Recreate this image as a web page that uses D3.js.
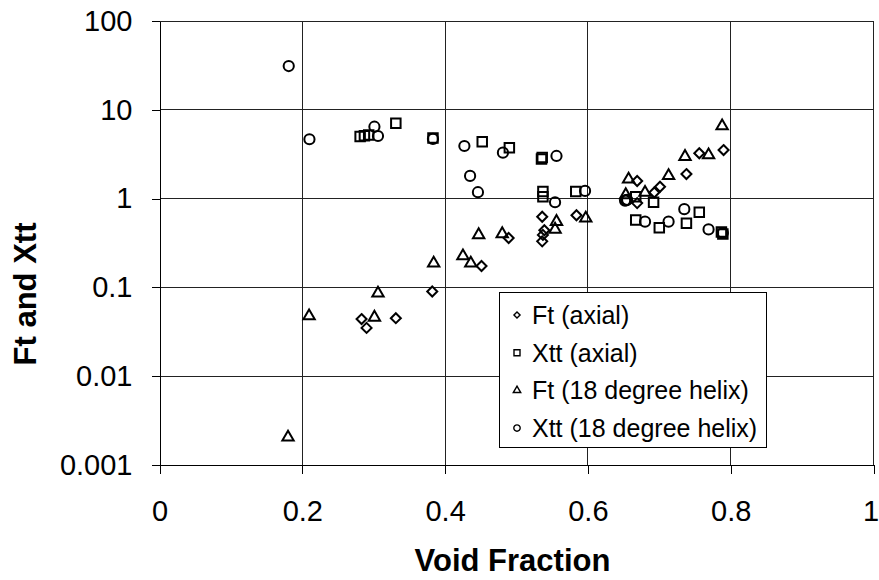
<!DOCTYPE html>
<html>
<head>
<meta charset="utf-8">
<script src="https://cdn.jsdelivr.net/npm/d3@7"></script>
<style>
    body { margin: 0; background: #fff; }
    text { font-family: "Liberation Sans", Arial, sans-serif; fill: #000; }
</style>
</head>
<body>
<div id="chart"></div>
<script>
// values: [void fraction, value]
const ftAxial = [
    [0.283, 0.044], [0.290, 0.035], [0.331, 0.045], [0.382, 0.090], [0.451, 0.174],
    [0.489, 0.36], [0.536, 0.33], [0.537, 0.39], [0.539, 0.44], [0.536, 0.625],
    [0.584, 0.65], [0.669, 1.58], [0.669, 0.89], [0.693, 1.17], [0.701, 1.36],
    [0.738, 1.89], [0.756, 3.24], [0.790, 3.52]
];
const xttAxial = [
    [0.281, 5.0], [0.287, 5.1], [0.293, 5.2], [0.331, 7.05], [0.383, 4.8],
    [0.452, 4.37], [0.490, 3.74], [0.535, 2.8], [0.536, 2.9], [0.537, 1.2],
    [0.537, 1.05], [0.583, 1.2], [0.667, 1.05], [0.667, 0.574], [0.692, 0.91],
    [0.700, 0.47], [0.738, 0.527], [0.756, 0.70], [0.787, 0.42], [0.789, 0.40]
];
const ftHelix = [
    [0.180, 0.00205], [0.2095, 0.0476], [0.301, 0.046], [0.306, 0.086], [0.384, 0.187],
    [0.425, 0.226], [0.436, 0.187], [0.447, 0.39], [0.480, 0.40], [0.554, 0.45],
    [0.556, 0.55], [0.597, 0.60], [0.653, 1.10], [0.657, 1.65], [0.680, 1.17],
    [0.713, 1.81], [0.736, 2.97], [0.769, 3.10], [0.788, 6.57]
];
const xttHelix = [
    [0.181, 31.1], [0.210, 4.66], [0.301, 6.45], [0.306, 5.07], [0.383, 4.7],
    [0.427, 3.91], [0.435, 1.80], [0.446, 1.18], [0.481, 3.29], [0.554, 0.91],
    [0.556, 3.02], [0.596, 1.22], [0.652, 0.95], [0.655, 0.97], [0.654, 0.96],
    [0.680, 0.55], [0.713, 0.55], [0.735, 0.76], [0.769, 0.45], [0.789, 0.41]
];
const seriesNames = ["Ft (axial)", "Xtt (axial)", "Ft (18 degree helix)", "Xtt (18 degree helix)"];
const xTicks = [0, 0.2, 0.4, 0.6, 0.8, 1];
const xTickLabels = ["0", "0.2", "0.4", "0.6", "0.8", "1"];
const yTicks = [0.001, 0.01, 0.1, 1, 10, 100];
const yTickLabels = ["0.001", "0.01", "0.1", "1", "10", "100"];

const dims = { width: 879, height: 580, left: 159.5, right: 873.5, top: 21, bottom: 465 };

const x = d3.scaleLinear().domain([0, 1]).range([dims.left, dims.right]);
const y = d3.scaleLog().domain([0.001, 100]).range([dims.bottom, dims.top]);

const diamond = d3.symbolDiamond2 || d3.symbolDiamond;
const series = [
    { name: seriesNames[0], data: ftAxial, type: diamond, size: 64, legendSize: 24 },
    { name: seriesNames[1], data: xttAxial, type: d3.symbolSquare, size: 90, legendSize: 36 },
    { name: seriesNames[2], data: ftHelix, type: d3.symbolTriangle, size: 56, legendSize: 24 },
    { name: seriesNames[3], data: xttHelix, type: d3.symbolCircle, size: 82, legendSize: 32 }
];

const svg = d3.select("#chart")
    .append("svg")
    .attr("width", dims.width)
    .attr("height", dims.height);

// grid
const grid = svg.append("g").attr("stroke", "#222").attr("stroke-width", 1).attr("shape-rendering", "crispEdges");
grid.selectAll(".gx")
    .data(xTicks.slice(1))
    .join("line")
    .attr("x1", d => x(d)).attr("x2", d => x(d))
    .attr("y1", dims.top).attr("y2", dims.bottom);
grid.selectAll(".gy")
    .data(yTicks.slice(1))
    .join("line")
    .attr("x1", dims.left).attr("x2", dims.right)
    .attr("y1", d => y(d)).attr("y2", d => y(d));

// axes
svg.append("g")
    .attr("transform", `translate(0,${dims.bottom})`)
    .call(d3.axisBottom(x).tickValues(xTicks).tickSize(9).tickSizeOuter(0).tickPadding(26)
        .tickFormat((d, i) => xTickLabels[i]))
    .call(g => g.selectAll("line, path").attr("stroke", "#000").attr("shape-rendering", "crispEdges"))
    .call(g => g.selectAll("text").attr("font-size", 29).attr("font-family", null))
    .call(g => g.selectAll(".tick:last-of-type text").attr("dx", -3));

svg.append("g")
    .attr("transform", `translate(${dims.left},0)`)
    .call(d3.axisLeft(y).tickValues(yTicks).tickSize(8).tickSizeOuter(0).tickPadding(19)
        .tickFormat((d, i) => yTickLabels[i]))
    .call(g => g.selectAll("line, path").attr("stroke", "#000").attr("shape-rendering", "crispEdges"))
    .call(g => g.selectAll("text").attr("font-size", 29).attr("font-family", null));

// axis titles
svg.append("text")
    .attr("x", (dims.left + dims.right) / 2 - 4)
    .attr("y", 571)
    .attr("text-anchor", "middle")
    .attr("font-size", 31)
    .attr("font-weight", "bold")
    .text("Void Fraction");

svg.append("text")
    .attr("transform", "translate(36,294) rotate(-90)")
    .attr("text-anchor", "middle")
    .attr("font-size", 31)
    .attr("font-weight", "bold")
    .text("Ft and Xtt");

// points
series.forEach(s => {
    svg.append("g")
        .selectAll("path")
        .data(s.data)
        .join("path")
        .attr("transform", d => `translate(${x(d[0])},${y(d[1])})`)
        .attr("d", d3.symbol(s.type, s.size))
        .attr("fill", "none")
        .attr("stroke", "#000")
        .attr("stroke-width", 2);
});

// legend
const legend = svg.append("g").attr("transform", "translate(499,292)");
legend.append("rect")
    .attr("width", 267).attr("height", 155)
    .attr("fill", "#fff").attr("stroke", "#000").attr("stroke-width", 1)
    .attr("shape-rendering", "crispEdges");
const item = legend.selectAll(".item")
    .data(series)
    .join("g")
    .attr("transform", (d, i) => `translate(0,${23 + i * 37.7})`);
item.append("path")
    .attr("transform", "translate(18,0)")
    .attr("d", d => d3.symbol(d.type, d.legendSize)())
    .attr("fill", "none")
    .attr("stroke", "#000")
    .attr("stroke-width", 1.4);
item.append("text")
    .attr("x", 33)
    .attr("dy", "0.36em")
    .attr("font-size", 25)
    .text(d => d.name);
</script>
</body>
</html>
